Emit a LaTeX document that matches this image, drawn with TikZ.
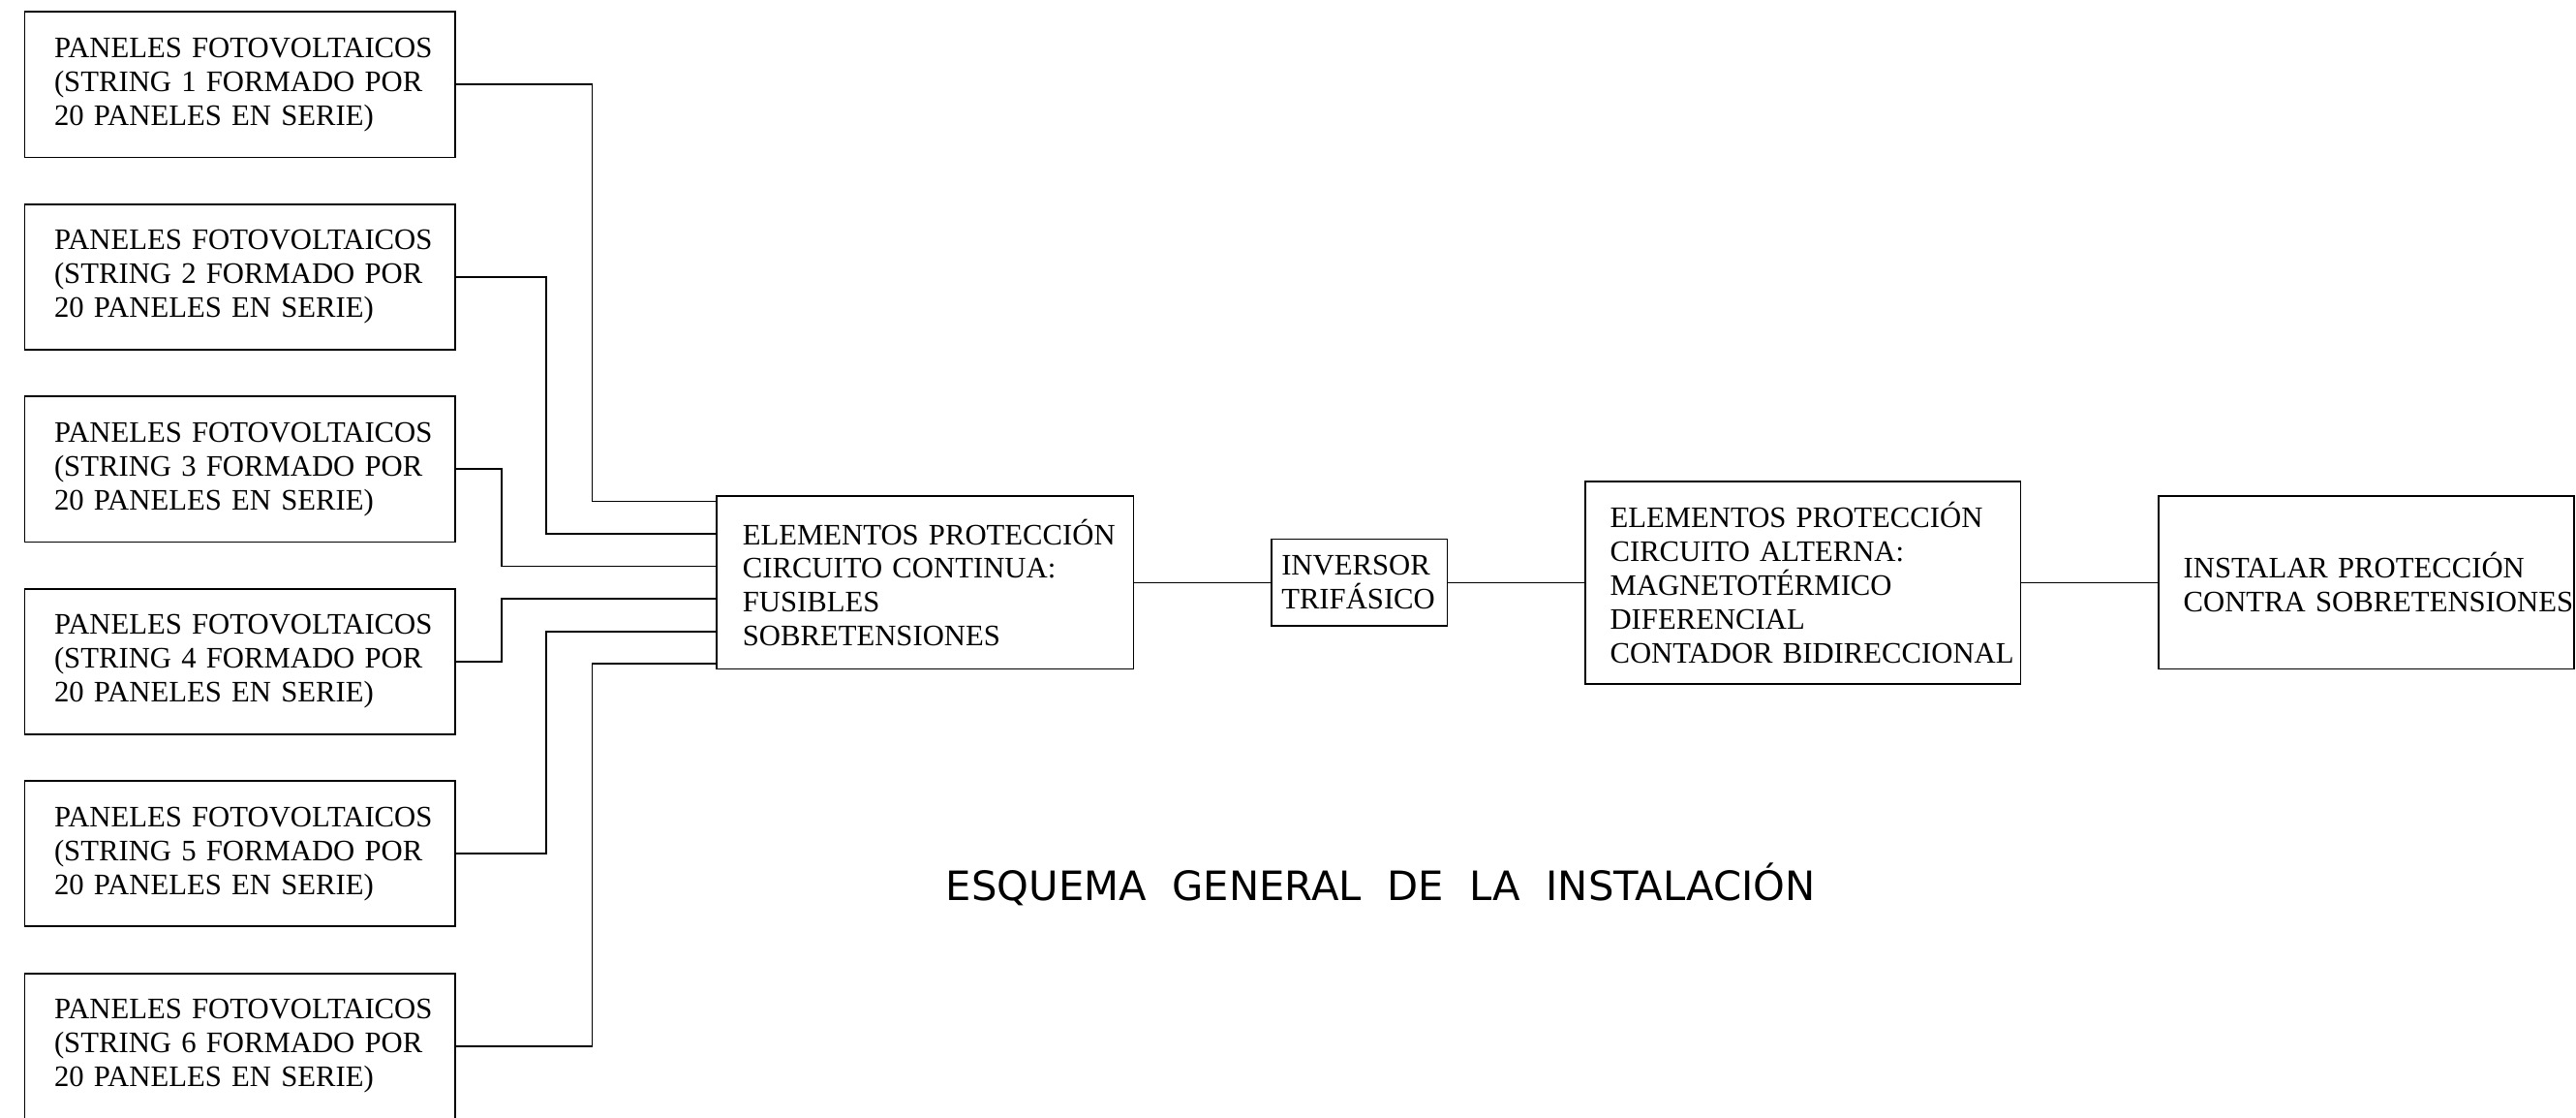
\documentclass[tikz,border=0pt]{standalone}
\usepackage{fontspec}
\setmainfont{Liberation Serif}
\newfontfamily\titlefont{DejaVu Sans}
\usetikzlibrary{calc}
\hyphenpenalty=10000
\exhyphenpenalty=10000
\tikzset{
  caja/.style={draw, line width=0.6pt, align=left, inner ysep=0pt,
    font=\fontsize{10.3}{11.7}\selectfont},
  panel/.style={caja, text width=4.52cm, inner xsep=0.36cm, minimum height=1.77cm},
  linea/.style={line width=0.6pt}
}
\newcommand{\panelstring}[1]{PANELES~FOTOVOLTAICOS\\(STRING~#1~FORMADO~POR\\20~PANELES~EN~SERIE)}

\begin{document}
\begin{tikzpicture}[x=0.02cm, y=-0.02cm]
\useasboundingbox (0,0) rectangle (1568,680);
\foreach \i in {1,...,6}{
  \node[panel] (p\i) at (146, {51.5+117*(\i-1)}) {\panelstring{\i}};
}
\node[caja, text width=4.44cm, inner xsep=0.32cm, minimum height=2.1cm] (dc) at (563,354.5)
  {ELEMENTOS~PROTECCIÓN\\CIRCUITO~CONTINUA:\\FUSIBLES\\SOBRETENSIONES};
\node[caja, text width=1.9cm, inner xsep=0.12cm, minimum height=1.06cm] (inv) at (827.5,354.5)
  {INVERSOR\\TRIFÁSICO};
\node[caja, text width=4.7cm, inner xsep=0.3cm, minimum height=2.46cm] (ac) at (1097.5,354.5)
  {ELEMENTOS~PROTECCIÓN\\CIRCUITO~ALTERNA:\\MAGNETOTÉRMICO\\DIFERENCIAL\\CONTADOR~BIDIRECCIONAL};
\node[caja, text width=4.46cm, inner xsep=0.3cm, minimum height=2.1cm] (sob) at (1440.5,354.5)
  {INSTALAR~PROTECCIÓN\\CONTRA~SOBRETENSIONES};
\foreach \i/\dx/\dy in {1/83/-49.5, 2/55/-29.7, 3/28/-9.9, 4/28/9.9, 5/55/29.7, 6/83/49.5}{
  \draw[linea] (p\i.east) -- ++(\dx,0) |- ($(dc.west)+(0,\dy)$);
}
\draw[linea] (dc) -- (inv);
\draw[linea] (inv) -- (ac);
\draw[linea] (ac) -- (sob);
\node[font=\titlefont\fontsize{14}{17}\selectfont] (titulo) at (840.5,538)
  {ESQUEMA\ \ GENERAL\ \ DE\ \ LA\ \ INSTALACIÓN};
\end{tikzpicture}
\end{document}
